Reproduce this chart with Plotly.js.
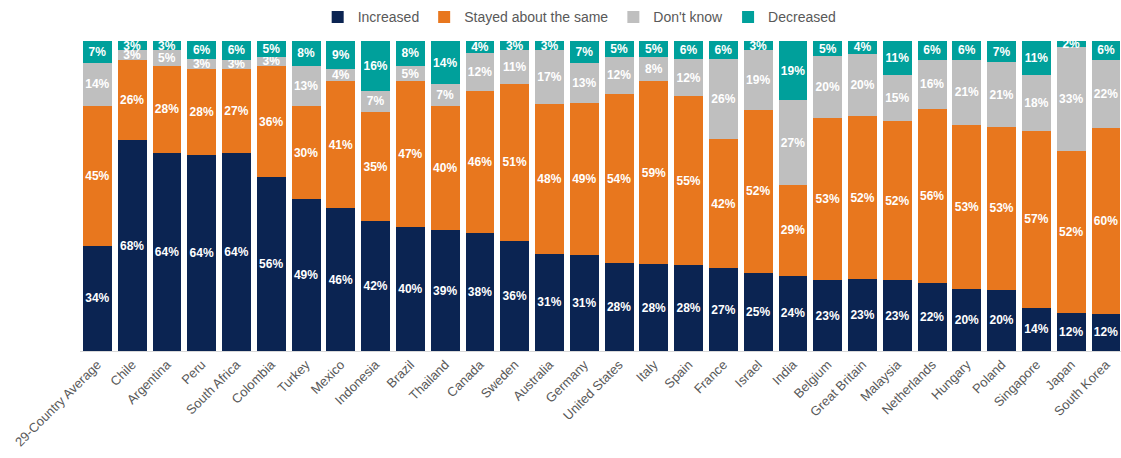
<!DOCTYPE html>
<html>
<head>
<meta charset="utf-8">
<script src="https://cdn.plot.ly/plotly-3.0.1.min.js"></script>
<style>
html,body{margin:0;padding:0;background:#fff;overflow:hidden;}
#chart{width:1121px;height:458px;}
</style>
</head>
<body>
<div id="chart"></div>
<script>
var countries = ["29-Country Average","Chile","Argentina","Peru","South Africa","Colombia","Turkey","Mexico","Indonesia","Brazil","Thailand","Canada","Sweden","Australia","Germany","United States","Italy","Spain","France","Israel","India","Belgium","Great Britain","Malaysia","Netherlands","Hungary","Poland","Singapore","Japan","South Korea"];
var increased = [34,68,64,64,64,56,49,46,42,40,39,38,36,31,31,28,28,28,27,25,24,23,23,23,22,20,20,14,12,12];
var stayed    = [45,26,28,28,27,36,30,41,35,47,40,46,51,48,49,54,59,55,42,52,29,53,52,52,56,53,53,57,52,60];
var dontKnow  = [14,3,5,3,3,3,13,4,7,5,7,12,11,17,13,12,8,12,26,19,27,20,20,15,16,21,21,18,33,22];
var decreased = [7,3,3,6,6,5,8,9,16,8,14,4,3,3,7,5,5,6,6,3,19,5,4,11,6,6,7,11,2,6];

var seriesNames = ["Increased","Stayed about the same","Don't know","Decreased"];
var seriesData = [increased, stayed, dontKnow, decreased];
var colors = ["#0b2452","#e8771e","#bfbfbf","#00a09b"];

var labelFont = {family:"'Liberation Sans Narrow','Arial Narrow','Liberation Sans',Arial,sans-serif", size:12, color:"#ffffff", weight:"bold"};

var traces = seriesData.map(function(vals, i){
  return {
    type:"bar",
    name: seriesNames[i],
    x: countries,
    y: vals,
    marker:{color:colors[i], line:{width:0}},
    text: vals.map(function(v){return v+"%";}),
    textposition:"inside",
    insidetextanchor:"middle",
    textangle:0,
    constraintext:"none",
    textfont: labelFont,
    hoverinfo:"x+y+name"
  };
});

var layout = {
  width:1121, height:458,
  barmode:"stack",
  barnorm:"percent",
  bargap:0.17,
  margin:{l:80, r:0, t:41, b:107, pad:0},
  paper_bgcolor:"#ffffff",
  plot_bgcolor:"#ffffff",
  font:{family:"'Liberation Sans',Arial,sans-serif", color:"#595959"},
  uniformtext:{mode:"show", minsize:12},
  showlegend:true,
  legend:{orientation:"h", x:0.48, xanchor:"center", y:1.128, yanchor:"top", yref:"paper",
          font:{size:14, color:"#595959"}, itemwidth:30, traceorder:"normal", tracegroupgap:0,
          bgcolor:"rgba(0,0,0,0)"},
  xaxis:{type:"category", range:[-0.5, 29.43], tickangle:-45, tickfont:{size:13, color:"#595959"},
         showline:true, linecolor:"#d9d9d9", linewidth:1, ticks:"", showgrid:false, zeroline:false, fixedrange:true},
  yaxis:{range:[0,100], visible:false, showgrid:false, zeroline:false, fixedrange:true}
};

Plotly.newPlot("chart", traces, layout, {displayModeBar:false, staticPlot:true});
</script>
</body>
</html>
